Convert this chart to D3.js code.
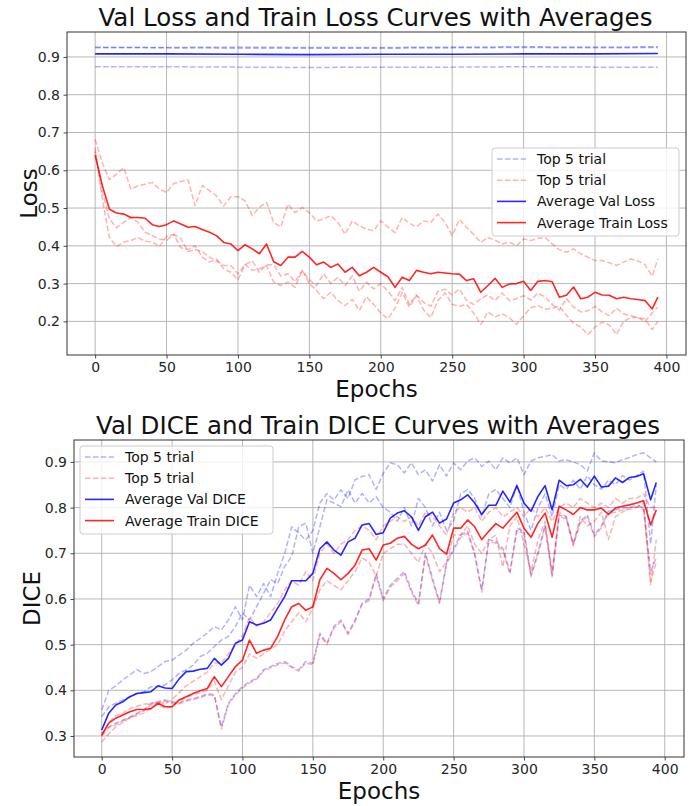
<!DOCTYPE html>
<html><head><meta charset="utf-8">
<script src="https://cdn.jsdelivr.net/npm/d3@7"></script>
<style>body{margin:0;background:#fff}svg{display:block}text{font-family:"DejaVu Sans",sans-serif}</style>
</head><body><svg id="c" width="694" height="806"></svg>
<script>
// ---------- DATA ----------
const epochs = [0,5,10,15,20,25,30,35,40,45, 50,55,60,65,70,75,80,85,90,95,
  100,105,110,115,120,125,130,135,140,145, 150,155,160,165,170,175,180,185,190,195,
  200,205,210,215,220,225,230,235,240,245, 250,255,260,265,270,275,280,285,290,295,
  300,305,310,315,320,325,330,335,340,345, 350,355,360,365,370,375,380,385,390,394];
const valLossEpochs = [0,50,100,150,200,250,300,350,394];
const xTicks = [0,50,100,150,200,250,300,350,400];
const lossTicks = [0.2,0.3,0.4,0.5,0.6,0.7,0.8,0.9];
const diceTicks = [0.3,0.4,0.5,0.6,0.7,0.8,0.9];

const valLoss1 = [0.926,0.925,0.926,0.925,0.925,0.926,0.927,0.926,0.927];
const valLoss2 = [0.924,0.924,0.923,0.923,0.923,0.924,0.925,0.924,0.925];
const valLoss3 = [0.874,0.874,0.873,0.872,0.873,0.873,0.874,0.873,0.873];
const avgValLoss = [0.908,0.908,0.907,0.906,0.907,0.907,0.908,0.908,0.909];

const trainLoss1 = [0.682,0.620,0.575,0.590,0.607,0.550,0.559,0.563,0.568,0.550,
  0.541,0.565,0.570,0.575,0.506,0.560,0.546,0.532,0.505,0.530,
  0.530,0.519,0.480,0.502,0.515,0.462,0.450,0.510,0.488,0.502,
  0.488,0.466,0.471,0.480,0.462,0.431,0.466,0.453,0.444,0.440,
  0.466,0.450,0.435,0.475,0.460,0.450,0.466,0.462,0.484,0.462,
  0.427,0.470,0.449,0.430,0.409,0.422,0.415,0.405,0.410,0.400,
  0.418,0.414,0.420,0.422,0.405,0.390,0.383,0.392,0.379,0.370,
  0.361,0.361,0.355,0.348,0.357,0.365,0.360,0.350,0.320,0.365];
const trainLoss2 = [0.650,0.545,0.471,0.448,0.462,0.475,0.462,0.436,0.427,0.418,
  0.414,0.430,0.420,0.385,0.390,0.385,0.370,0.360,0.348,0.348,
  0.326,0.350,0.360,0.330,0.350,0.350,0.320,0.326,0.305,0.335,
  0.310,0.295,0.326,0.300,0.317,0.295,0.320,0.280,0.304,0.286,
  0.300,0.280,0.255,0.290,0.245,0.270,0.250,0.240,0.280,0.285,
  0.270,0.286,0.255,0.245,0.260,0.270,0.255,0.275,0.255,0.260,
  0.268,0.256,0.275,0.265,0.245,0.230,0.260,0.238,0.225,0.228,
  0.240,0.225,0.215,0.235,0.220,0.215,0.210,0.200,0.222,0.238];
const trainLoss3 = [0.660,0.524,0.422,0.398,0.410,0.414,0.422,0.412,0.410,0.398,
  0.425,0.430,0.395,0.390,0.400,0.370,0.357,0.365,0.339,0.330,
  0.310,0.350,0.335,0.339,0.348,0.304,0.295,0.304,0.290,0.335,
  0.300,0.282,0.260,0.277,0.255,0.242,0.258,0.229,0.265,0.245,
  0.222,0.207,0.235,0.277,0.238,0.268,0.230,0.210,0.255,0.275,
  0.245,0.240,0.245,0.222,0.192,0.225,0.212,0.220,0.210,0.192,
  0.215,0.236,0.242,0.232,0.235,0.240,0.216,0.195,0.185,0.165,
  0.185,0.198,0.190,0.165,0.200,0.210,0.210,0.207,0.178,0.200];
const avgTrainLoss = [0.640,0.560,0.497,0.487,0.484,0.475,0.475,0.473,0.456,0.451,
  0.456,0.466,0.458,0.449,0.451,0.443,0.436,0.427,0.409,0.405,
  0.387,0.403,0.392,0.379,0.405,0.358,0.348,0.370,0.370,0.385,
  0.370,0.350,0.357,0.343,0.352,0.330,0.343,0.321,0.330,0.343,
  0.330,0.318,0.290,0.317,0.308,0.335,0.330,0.326,0.330,0.328,
  0.326,0.325,0.308,0.313,0.277,0.295,0.314,0.290,0.299,0.300,
  0.306,0.282,0.306,0.308,0.305,0.264,0.269,0.291,0.260,0.264,
  0.277,0.270,0.269,0.260,0.264,0.260,0.258,0.255,0.233,0.264];

const valDice1 = [0.357,0.400,0.410,0.423,0.434,0.445,0.437,0.441,0.452,0.463,
  0.466,0.477,0.488,0.503,0.514,0.525,0.540,0.532,0.554,0.583,
  0.554,0.630,0.605,0.634,0.605,0.656,0.700,0.758,0.744,0.729,
  0.750,0.810,0.831,0.817,0.839,0.820,0.861,0.868,0.872,0.840,
  0.875,0.898,0.894,0.876,0.898,0.872,0.883,0.858,0.894,0.869,
  0.898,0.883,0.902,0.909,0.890,0.902,0.883,0.909,0.898,0.909,
  0.872,0.902,0.909,0.912,0.916,0.902,0.905,0.900,0.894,0.880,
  0.920,0.902,0.900,0.898,0.905,0.910,0.916,0.920,0.909,0.900];
const valDice2 = [0.342,0.364,0.372,0.379,0.386,0.393,0.397,0.408,0.408,0.412,
  0.423,0.437,0.445,0.455,0.474,0.481,0.496,0.510,0.518,0.540,
  0.569,0.554,0.583,0.612,0.642,0.634,0.671,0.693,0.758,0.766,
  0.700,0.758,0.817,0.810,0.802,0.839,0.810,0.831,0.810,0.824,
  0.800,0.790,0.770,0.800,0.760,0.820,0.800,0.760,0.790,0.750,
  0.770,0.830,0.840,0.820,0.780,0.830,0.840,0.820,0.800,0.850,
  0.790,0.750,0.800,0.830,0.780,0.850,0.840,0.860,0.840,0.870,
  0.850,0.840,0.860,0.850,0.870,0.860,0.870,0.880,0.720,0.850];
const valDice3 = [0.306,0.320,0.328,0.335,0.342,0.350,0.357,0.372,0.375,0.379,
  0.375,0.372,0.379,0.382,0.386,0.393,0.390,0.320,0.372,0.393,
  0.408,0.419,0.426,0.445,0.452,0.459,0.463,0.452,0.445,0.463,
  0.459,0.525,0.503,0.540,0.554,0.525,0.554,0.591,0.600,0.656,
  0.600,0.630,0.645,0.660,0.620,0.590,0.700,0.645,0.593,0.680,
  0.711,0.740,0.748,0.700,0.620,0.730,0.726,0.711,0.660,0.755,
  0.748,0.652,0.703,0.762,0.652,0.784,0.780,0.720,0.770,0.784,
  0.740,0.760,0.792,0.795,0.799,0.800,0.806,0.800,0.660,0.690];
const avgValDice = [0.313,0.350,0.368,0.375,0.386,0.393,0.395,0.397,0.410,0.405,
  0.404,0.425,0.441,0.442,0.446,0.448,0.470,0.455,0.470,0.503,
  0.510,0.550,0.543,0.547,0.554,0.580,0.605,0.640,0.640,0.640,
  0.656,0.710,0.725,0.707,0.696,0.725,0.733,0.762,0.765,0.741,
  0.745,0.777,0.788,0.793,0.780,0.750,0.780,0.790,0.766,0.775,
  0.810,0.817,0.828,0.810,0.785,0.805,0.805,0.836,0.812,0.848,
  0.810,0.792,0.825,0.848,0.795,0.860,0.848,0.850,0.862,0.845,
  0.869,0.845,0.847,0.865,0.855,0.866,0.868,0.874,0.817,0.855];

const trainDice1 = [0.300,0.330,0.345,0.350,0.360,0.365,0.370,0.370,0.375,0.370,
  0.380,0.395,0.410,0.420,0.430,0.440,0.460,0.460,0.480,0.500,
  0.520,0.560,0.540,0.550,0.570,0.590,0.620,0.640,0.630,0.660,
  0.640,0.700,0.720,0.700,0.720,0.730,0.750,0.760,0.750,0.730,
  0.760,0.770,0.780,0.770,0.780,0.760,0.790,0.780,0.760,0.740,
  0.790,0.800,0.790,0.800,0.770,0.790,0.800,0.780,0.790,0.800,
  0.780,0.800,0.780,0.800,0.770,0.800,0.810,0.800,0.820,0.810,
  0.800,0.810,0.800,0.820,0.810,0.820,0.820,0.830,0.800,0.800];
const trainDice2 = [0.287,0.305,0.320,0.330,0.340,0.345,0.350,0.360,0.370,0.360,
  0.365,0.375,0.385,0.390,0.395,0.400,0.420,0.380,0.410,0.440,
  0.450,0.480,0.470,0.480,0.490,0.500,0.530,0.550,0.570,0.550,
  0.580,0.620,0.640,0.630,0.620,0.640,0.660,0.690,0.680,0.650,
  0.700,0.710,0.720,0.720,0.700,0.680,0.720,0.700,0.660,0.680,
  0.740,0.740,0.760,0.720,0.700,0.730,0.740,0.670,0.760,0.780,
  0.720,0.660,0.730,0.770,0.660,0.790,0.780,0.720,0.780,0.760,
  0.770,0.790,0.730,0.780,0.790,0.800,0.800,0.810,0.630,0.730];
const trainDice3 = [0.300,0.318,0.325,0.333,0.340,0.348,0.355,0.368,0.372,0.376,
  0.372,0.370,0.376,0.380,0.384,0.390,0.388,0.315,0.368,0.390,
  0.405,0.416,0.424,0.442,0.449,0.456,0.460,0.450,0.442,0.460,
  0.456,0.520,0.500,0.536,0.550,0.522,0.550,0.588,0.596,0.650,
  0.596,0.626,0.640,0.655,0.615,0.586,0.695,0.640,0.590,0.676,
  0.706,0.735,0.744,0.696,0.615,0.726,0.722,0.706,0.655,0.750,
  0.744,0.648,0.698,0.758,0.648,0.780,0.776,0.716,0.766,0.780,
  0.736,0.756,0.788,0.790,0.795,0.796,0.802,0.796,0.640,0.680];
const avgTrainDice = [0.302,0.328,0.339,0.346,0.353,0.358,0.358,0.360,0.372,0.364,
  0.364,0.379,0.386,0.393,0.399,0.404,0.430,0.408,0.430,0.452,
  0.466,0.510,0.481,0.488,0.492,0.518,0.554,0.583,0.590,0.575,
  0.583,0.642,0.667,0.656,0.642,0.656,0.674,0.707,0.710,0.685,
  0.718,0.722,0.733,0.737,0.720,0.710,0.718,0.740,0.710,0.698,
  0.755,0.755,0.773,0.758,0.730,0.748,0.765,0.755,0.773,0.790,
  0.755,0.735,0.766,0.788,0.735,0.803,0.795,0.785,0.800,0.795,
  0.795,0.799,0.785,0.799,0.803,0.806,0.810,0.815,0.762,0.795];

const lossLegend = ["Top 5 trial","Top 5 trial","Average Val Loss","Average Train Loss"];
const diceLegend = ["Top 5 trial","Top 5 trial","Average Val DICE","Average Train DICE"];

// ---------- DRAW ----------
const svg = d3.select("#c");
const BLUE = "#0000ff", RED = "#ff0000";
const trialStyle = {w:1.5, dash:"5.5,2.4", op:0.3};
const avgStyle = {w:1.6, dash:null, op:0.85};

function drawChart(o) {
  const x = d3.scaleLinear().domain([-19.7, 413.7]).range([o.left, o.right]);
  const y = d3.scaleLinear().domain(o.yDomain).range([o.bottom, o.top]);
  const g = svg.append("g");
  g.selectAll(".gx").data(xTicks).join("line")
    .attr("x1", d => x(d)).attr("x2", d => x(d)).attr("y1", o.top).attr("y2", o.bottom)
    .attr("stroke", "#b0b0b0").attr("stroke-width", 0.9);
  g.selectAll(".gy").data(o.yTicks).join("line")
    .attr("y1", d => y(d)).attr("y2", d => y(d)).attr("x1", o.left).attr("x2", o.right)
    .attr("stroke", "#b0b0b0").attr("stroke-width", 0.9);
  const cid = "clip" + o.id;
  svg.append("clipPath").attr("id", cid).append("rect")
    .attr("x", o.left).attr("y", o.top).attr("width", o.right - o.left).attr("height", o.bottom - o.top);
  const lg = g.append("g").attr("clip-path", `url(#${cid})`);
  o.series.forEach(s => {
    const line = d3.line().x((d, i) => x(s.x[i])).y(d => y(d));
    lg.append("path").datum(s.v).attr("d", line)
      .attr("fill", "none").attr("stroke", s.color)
      .attr("stroke-width", s.st.w).attr("stroke-opacity", s.st.op)
      .attr("stroke-dasharray", s.st.dash).attr("stroke-linejoin", "round");
  });
  const ax = g.append("g").attr("transform", `translate(0,${o.bottom})`)
    .call(d3.axisBottom(x).tickValues(xTicks).tickSize(3.5).tickPadding(3.5).tickFormat(d3.format("d")));
  const ay = g.append("g").attr("transform", `translate(${o.left},0)`)
    .call(d3.axisLeft(y).tickValues(o.yTicks).tickSize(3.5).tickPadding(3.5).tickFormat(d3.format(".1f")));
  [ax, ay].forEach(a => {
    a.select(".domain").remove();
    a.selectAll(".tick line").attr("stroke", "#333").attr("stroke-width", 0.9);
    a.selectAll(".tick text").attr("font-size", 14).attr("fill", "#262626")
      .attr("font-family", '"DejaVu Sans",sans-serif');
  });
  g.append("rect").attr("x", o.left).attr("y", o.top)
    .attr("width", o.right - o.left).attr("height", o.bottom - o.top)
    .attr("fill", "none").attr("stroke", "#333").attr("stroke-width", 1);
  g.append("text").attr("x", (o.left + o.right) / 2 - 1).attr("y", o.top - 6)
    .attr("text-anchor", "middle").attr("font-size", 24.5).attr("fill", "#111").text(o.title);
  g.append("text").attr("x", (o.left + o.right) / 2).attr("y", o.bottom + 42)
    .attr("text-anchor", "middle").attr("font-size", 23).attr("fill", "#111").text("Epochs");
  g.append("text").attr("transform", `translate(${o.ylabelX},${(o.top + o.bottom) / 2}) rotate(-90)`)
    .attr("text-anchor", "middle").attr("font-size", 23).attr("fill", "#111").text(o.ylabel);
  const L = o.legend;
  const lgd = g.append("g");
  lgd.append("rect").attr("x", L.x).attr("y", L.y).attr("width", L.w).attr("height", L.h)
    .attr("rx", 3).attr("fill", "#fff").attr("fill-opacity", 0.8)
    .attr("stroke", "#cccccc").attr("stroke-width", 1);
  const items = [
    {c: BLUE, st: trialStyle}, {c: RED, st: trialStyle},
    {c: BLUE, st: avgStyle}, {c: RED, st: avgStyle}];
  items.forEach((it, i) => {
    const yy = L.y + 11 + i * 21.2;
    lgd.append("line").attr("x1", L.x + 5).attr("x2", L.x + 34).attr("y1", yy).attr("y2", yy)
      .attr("stroke", it.c).attr("stroke-width", it.st.w).attr("stroke-opacity", it.st.op)
      .attr("stroke-dasharray", it.st.dash);
    lgd.append("text").attr("x", L.x + 45).attr("y", yy + 5).attr("font-size", 14)
      .attr("fill", "#111").text(L.labels[i]);
  });
}

drawChart({
  id: "loss", left: 67, right: 686, top: 32, bottom: 355,
  yDomain: [0.111, 0.966], yTicks: lossTicks, ylabel: "Loss", ylabelX: 37,
  title: "Val Loss and Train Loss Curves with Averages",
  legend: {x: 492, y: 148, w: 187, h: 88, labels: lossLegend},
  series: [
    {x: valLossEpochs, v: valLoss1, color: BLUE, st: trialStyle},
    {x: valLossEpochs, v: valLoss2, color: BLUE, st: trialStyle},
    {x: valLossEpochs, v: valLoss3, color: BLUE, st: trialStyle},
    {x: epochs, v: trainLoss1, color: RED, st: trialStyle},
    {x: epochs, v: trainLoss2, color: RED, st: trialStyle},
    {x: epochs, v: trainLoss3, color: RED, st: trialStyle},
    {x: valLossEpochs, v: avgValLoss, color: BLUE, st: avgStyle},
    {x: epochs, v: avgTrainLoss, color: RED, st: avgStyle}
  ]
});

drawChart({
  id: "dice", left: 74, right: 684, top: 440, bottom: 757,
  yDomain: [0.254, 0.948], yTicks: diceTicks, ylabel: "DICE", ylabelX: 40,
  title: "Val DICE and Train DICE Curves with Averages",
  legend: {x: 80, y: 446, w: 193, h: 88, labels: diceLegend},
  series: [
    {x: epochs, v: valDice1, color: BLUE, st: trialStyle},
    {x: epochs, v: valDice2, color: BLUE, st: trialStyle},
    {x: epochs, v: valDice3, color: BLUE, st: trialStyle},
    {x: epochs, v: trainDice1, color: RED, st: trialStyle},
    {x: epochs, v: trainDice2, color: RED, st: trialStyle},
    {x: epochs, v: trainDice3, color: RED, st: trialStyle},
    {x: epochs, v: avgValDice, color: BLUE, st: avgStyle},
    {x: epochs, v: avgTrainDice, color: RED, st: avgStyle}
  ]
});
</script></body></html>
